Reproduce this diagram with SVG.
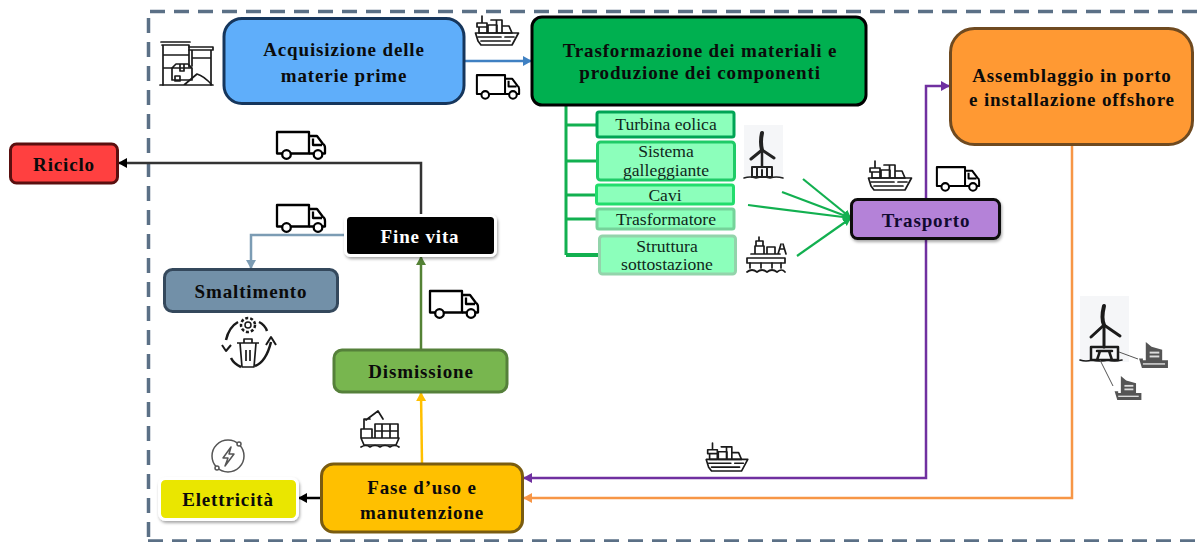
<svg xmlns="http://www.w3.org/2000/svg" width="1198" height="542" viewBox="0 0 1198 542">
<style>
text{font-family:"Liberation Serif","Times New Roman",serif;text-anchor:middle}
.b{font-weight:700;font-size:19px;letter-spacing:.85px;fill:#0b0b0b}
.s{font-size:17.600px;fill:#10281c}
.n{stroke-width:3}
.sub{fill:#8CFFBB;stroke-width:3}
.c{fill:none;stroke-width:2.500}
.ic{fill:none;stroke:#1a1a1a;stroke-width:1.700;stroke-linejoin:round;stroke-linecap:round}
.ict{fill:none;stroke:#000;stroke-width:2.300;stroke-linejoin:round}
.g{fill:none;stroke:#12B050;stroke-width:3}
</style>
<defs>
<filter id="sh" x="-10%" y="-20%" width="125%" height="150%"><feDropShadow dx="1" dy="2" stdDeviation="1.500" flood-color="#000" flood-opacity=".35"/></filter>
<marker id="mBlue" markerUnits="userSpaceOnUse" markerWidth="10" markerHeight="12" refX="8" refY="6" orient="auto"><path d="M0,1L9,6L0,11z" fill="#3F80C2"/></marker>
<marker id="mK" markerUnits="userSpaceOnUse" markerWidth="10" markerHeight="12" refX="8" refY="6" orient="auto"><path d="M0,1L9,6L0,11z" fill="#000"/></marker>
<marker id="mSteel" markerUnits="userSpaceOnUse" markerWidth="10" markerHeight="12" refX="8" refY="6" orient="auto"><path d="M0,1L9,6L0,11z" fill="#7C9CB4"/></marker>
<marker id="mGr" markerUnits="userSpaceOnUse" markerWidth="10" markerHeight="12" refX="8" refY="6" orient="auto"><path d="M0,1L9,6L0,11z" fill="#548235"/></marker>
<marker id="mY" markerUnits="userSpaceOnUse" markerWidth="10" markerHeight="12" refX="8" refY="6" orient="auto"><path d="M0,1L9,6L0,11z" fill="#FFC000"/></marker>
<marker id="mP" markerUnits="userSpaceOnUse" markerWidth="10" markerHeight="12" refX="8" refY="6" orient="auto"><path d="M0,1L9,6L0,11z" fill="#7030A0"/></marker>
<marker id="mO" markerUnits="userSpaceOnUse" markerWidth="10" markerHeight="12" refX="8" refY="6" orient="auto"><path d="M0,1L9,6L0,11z" fill="#F79646"/></marker>
<marker id="mG" markerUnits="userSpaceOnUse" markerWidth="9" markerHeight="10" refX="8" refY="5" orient="auto"><path d="M0,1L8,5L0,9z" fill="#12B050"/></marker>
<symbol id="truck" viewBox="0 0 50 29" overflow="visible">
<g class="ict"><path d="M6,22.500H1V1H33V22.500H15"/><path d="M33,5H41L47,13Q49,14 49,17V22.500H46.500M33,22.500H37.500M37,7.500V14H46"/><circle cx="10.500" cy="23.500" r="4.300" fill="#fff"/><circle cx="42" cy="23.500" r="4.300" fill="#fff"/></g>
</symbol>
<symbol id="ship" viewBox="0 0 44 30" overflow="visible">
<g class="ic"><path d="M7,0V6M2,7H12V11H2zM4,11H12V17H4z"/><path d="M13,9H22V17H13zM16,4H27V17H16M21.500,4V17M27,10H34L37,17H27"/><path d="M0.500,17H43.500L37,29H6L3,25z"/><path d="M3,21H26M30,21H39M6,25H35"/></g>
</symbol>
<symbol id="boat" viewBox="0 0 30 28" overflow="visible">
<g fill="#555"><path d="M7,0L13,5L24,8V20H7z"/><path d="M0,17H4V19H30V27H3z"/></g><g fill="#ddd"><rect x="11" y="10" width="10" height="2"/><rect x="11" y="14" width="10" height="2"/><rect x="4" y="22" width="23" height="1.500"/></g>
</symbol>
</defs>

<g id="frame" fill="none" stroke="#5B7086" stroke-width="3.500" stroke-dasharray="15 9">
<path d="M150,11.500H1198"/>
<path d="M148.500,18V542"/>
<path d="M148,541H1198"/>
</g>

<g id="connectors">
<path class="c" d="M464,61H531" stroke="#3F80C2" marker-end="url(#mBlue)"/>
<path class="c" d="M421,216V163H119" stroke="#333" marker-end="url(#mK)"/>
<path class="c" d="M346,235H251V268" stroke="#7C9CB4" marker-end="url(#mSteel)"/>
<path class="c" d="M421,350V257" stroke="#548235" marker-end="url(#mGr)"/>
<path class="c" d="M422,464L421,393" stroke="#FFC000" marker-end="url(#mY)"/>
<path class="c" d="M321,498H299" stroke="#000" marker-end="url(#mK)"/>
<path class="c" d="M926,199V86H949" stroke="#7030A0" marker-end="url(#mP)"/>
<path class="c" d="M926,239V478H524" stroke="#7030A0" marker-end="url(#mP)"/>
<path class="c" d="M1072,144V498H524" stroke="#F79646" marker-end="url(#mO)"/>
<path class="g" d="M566,105V255M566,125H597M566,161H597M566,195H596M566,219H597"/>
<path class="g" d="M566,255H599" style="stroke-width:4"/>
<g stroke="#12B050" stroke-width="2.200" fill="none">
<path d="M803,179L851,218" marker-end="url(#mG)"/>
<path d="M782,192L851,218" marker-end="url(#mG)"/>
<path d="M748,205L851,218" marker-end="url(#mG)"/>
<path d="M797,256L851,218" marker-end="url(#mG)"/>
</g>
</g>

<g id="acquisizione"><rect class="n" x="224" y="18.500" width="240" height="85" rx="18" fill="#5FAEFA" stroke="#16365C"/><text class="b" x="344" y="56">Acquisizione delle</text><text class="b" x="344" y="82">materie prime</text></g>
<g id="trasformazione"><rect class="n" x="532" y="17" width="334" height="88" rx="10" fill="#00B050" stroke="#000"/><text class="b" x="700" y="57">Trasformazione dei materiali e</text><text class="b" x="700" y="79">produzione dei componenti</text></g>
<g id="assemblaggio"><rect class="n" x="950.500" y="28.500" width="242" height="116" rx="24" fill="#FF9933" stroke="#6F4A20"/><text class="b" x="1072" y="82">Assemblaggio in porto</text><text class="b" x="1072" y="106">e installazione offshore</text></g>
<g id="riciclo"><rect class="n" x="10.500" y="144" width="107" height="39" rx="6" fill="#FF4040" stroke="#5A0F0F"/><text class="b" x="64" y="171">Riciclo</text></g>
<g id="finevita"><rect x="345.500" y="215.500" width="150" height="40" rx="5" fill="#000" stroke="#fff" stroke-width="3" filter="url(#sh)"/><text class="b" x="420" y="243" style="fill:#fff">Fine vita</text></g>
<g id="smaltimento"><rect class="n" x="164.500" y="269.500" width="173" height="42" rx="8" fill="#7290A8" stroke="#34485C"/><text class="b" x="251" y="298">Smaltimento</text></g>
<g id="dismissione"><rect class="n" x="334" y="350" width="173" height="42" rx="8" fill="#78B64F" stroke="#55803A"/><text class="b" x="421" y="378">Dismissione</text></g>
<g id="fase"><rect class="n" x="321.500" y="464" width="201" height="68" rx="12" fill="#FFC000" stroke="#7A5C10"/><text class="b" x="422" y="494">Fase d’uso e</text><text class="b" x="422" y="519">manutenzione</text></g>
<g id="elettricita"><rect x="159.500" y="478.500" width="138" height="41" rx="6" fill="#EAE600" stroke="#fff" stroke-width="3" filter="url(#sh)"/><text class="b" x="228" y="506">Elettricità</text></g>
<g id="trasporto"><rect class="n" x="851.500" y="199.500" width="148" height="39" rx="6" fill="#B482D8" stroke="#111" filter="url(#sh)"/><text class="b" x="926" y="227" style="fill:#120A30">Trasporto</text></g>

<g id="turbina"><rect class="sub" x="597" y="112" width="137" height="25" rx="2" stroke="#00A455"/><text class="s" x="666" y="130">Turbina eolica</text></g>
<g id="sistema"><rect class="sub" x="597.500" y="142" width="137" height="38" rx="3" stroke="#1FCB67"/><text class="s" x="666" y="157">Sistema</text><text class="s" x="666" y="176">galleggiante</text></g>
<g id="cavi"><rect class="sub" x="596.500" y="185" width="137" height="19" rx="2" stroke="#22DD6C"/><text class="s" x="665" y="201">Cavi</text></g>
<g id="trasformatore"><rect class="sub" x="597" y="209" width="137" height="20" rx="2" stroke="#75D39A"/><text class="s" x="666" y="225">Trasformatore</text></g>
<g id="struttura"><rect class="sub" x="599.500" y="236" width="136" height="38" rx="3" stroke="#93D4AB"/><text class="s" x="667" y="252">Struttura</text><text class="s" x="667" y="270">sottostazione</text></g>

<g id="icons">
<use href="#truck" x="276" y="131" width="50" height="29"/>
<use href="#truck" x="276" y="204" width="50" height="29"/>
<use href="#truck" x="429" y="290" width="50" height="29"/>
<use href="#truck" x="476" y="74" width="44" height="26"/>
<use href="#truck" x="936" y="166" width="44" height="26"/>
<use href="#ship" x="475" y="16" width="44" height="30"/>
<use href="#ship" x="868" y="161" width="44" height="30"/>
<use href="#ship" x="705" y="443" width="44" height="29"/>

<g id="warehouse" class="ic"><path d="M161,42H190M162,45H189M163,45V85M189,45V67M163,68H172M163,55H189"/><path d="M189,47H213V50H189M192,50V66M211,50V85M192,58H211"/><path d="M172,68L176,64H188L192,68V80H172zM172,68H192M180,64V71H184V64M175,76h5v5h-5z"/><path d="M184,85L197,74Q204,76 212,85zM160,85H213"/></g>

<g id="turbine-icon"><rect x="744" y="125" width="39" height="53" fill="#F5F6F8"/><g fill="none" stroke="#222" stroke-linejoin="round" stroke-linecap="round"><path d="M762,133Q760,142 762,150" stroke-width="4"/><path d="M762,150L751,159M762,150L774,158" stroke-width="3"/><path d="M762,150V167" stroke-width="2.500"/><path d="M752,167H772V177H752zM757,167V177M762,170V177M767,167V177" stroke-width="2"/><path d="M744,178Q750,176 756,178Q763,176 770,178Q776,176 783,178" stroke-width="1.500"/></g></g>

<g id="platform-icon" class="ic"><path d="M759,237V241M756,241H763V246H756zM755,246H764V254H755zM767,247H775V254H767zM781,244L778,254M783,244L786,254M781,249H784M747,258H785V263H747zM751,254H780"/><path d="M750,263V268M761,263V268M772,263V268M781,263V268"/><path d="M747,272Q752,268 757,272Q762,268 767,272Q772,268 777,272Q782,268 785,272"/></g>

<g id="recycle-icon" fill="none" stroke="#1a1a1a" stroke-linejoin="round"><circle cx="248" cy="325" r="3" stroke-width="1.500"/><circle cx="248" cy="325" r="7" stroke-width="2.500" stroke-dasharray="3 2"/><path d="M238,322Q229,327 226,340M259,322Q265,325 267,331" stroke-width="2.500"/><path d="M222,345L226,351L231,345" stroke-width="2"/><path d="M231,358Q234,364 241,367" stroke-width="2.500"/><path d="M255,366Q266,362 271,342" stroke-width="2.500"/><path d="M266,345L271,337L276,345" stroke-width="2"/><path d="M237,343H259M240,343L242,367H254L256,343M244,343V339H252V343M246,350V361M250,350V361" stroke-width="1.700"/></g>

<g id="crane-ship" class="ic"><path d="M364,419V429M361,429H372V438H361zM366,420L378,411L383,419M364,419H370M375,424H398V438H375zM382,424V438M390,424V438M375,431H398M361,438H399L396,445H364z"/><path d="M361,447Q366,444 370,447Q375,444 380,447Q385,444 390,447Q395,444 399,447"/></g>

<g id="power-icon" fill="none" stroke="#555" stroke-width="1.500"><circle cx="228" cy="456" r="16"/><path d="M231,447L223,458H228L225,466L234,454H229z" stroke-linejoin="round"/><circle cx="239" cy="444" r="2" fill="#fff"/><circle cx="217" cy="468" r="2" fill="#fff"/></g>

<g id="offshore-icon"><rect x="1080" y="296" width="49" height="66" fill="#F5F6F8"/><g fill="none" stroke="#1a1a1a" stroke-linejoin="round" stroke-linecap="round"><path d="M1104,306Q1101,318 1104,325" stroke-width="4"/><path d="M1104,325L1091,337M1104,325L1120,336" stroke-width="3"/><path d="M1104,325V347" stroke-width="3"/><path d="M1091,347H1118V360H1091zM1097,351H1112M1100,351L1097,360M1109,351L1112,360" stroke-width="2.500"/><path d="M1080,360Q1086,362 1092,360Q1100,362 1108,360Q1114,362 1122,360" stroke-width="1.700"/></g><path d="M1119,352L1138,359M1100,360L1113,386" stroke="#555" stroke-width="1" fill="none"/><use href="#boat" x="1138" y="342" width="31" height="27"/><use href="#boat" x="1113" y="376" width="30" height="25"/></g>
</g>
</svg>
